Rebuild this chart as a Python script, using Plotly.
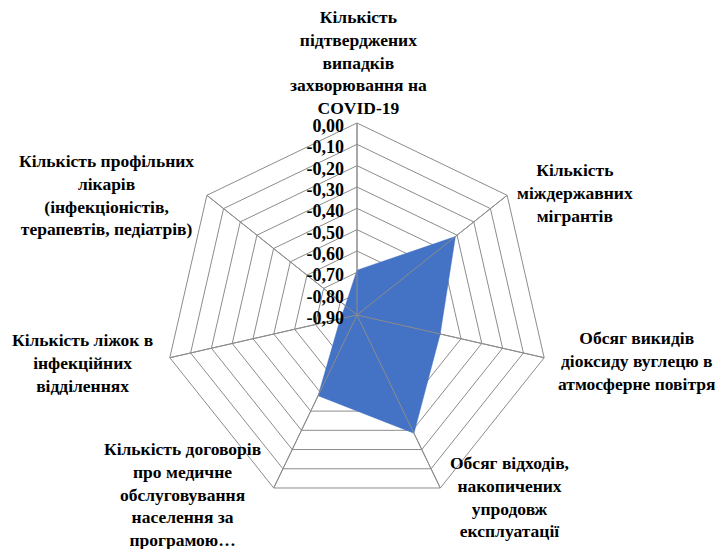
import plotly.graph_objects as go

# Axis categories (clockwise from the top) and their values.
categories = [
    "Кількість підтверджених випадків захворювання на COVID-19",
    "Кількість міждержавних мігрантів",
    "Обсяг викидів діоксиду вуглецю в атмосферне повітря",
    "Обсяг відходів, накопичених упродовж експлуатації",
    "Кількість договорів про медичне обслуговування населення за програмою…",
    "Кількість ліжок в інфекційних відділеннях",
    "Кількість профільних лікарів (інфекціоністів, терапевтів, педіатрів)",
]
values = [-0.69, -0.31, -0.50, -0.285, -0.48, -0.82, -0.83]

# Radial tick values and their labels (hyphen minus, comma decimals).
tick_vals = [0.0, -0.1, -0.2, -0.3, -0.4, -0.5, -0.6, -0.7, -0.8, -0.9]
tick_text = ["0,00", "-0,10", "-0,20", "-0,30", "-0,40", "-0,50",
             "-0,60", "-0,70", "-0,80", "-0,90"]

# Wrapped labels as they appear around the chart.
label_lines = [
    "Кількість<br>підтверджених<br>випадків<br>захворювання на<br>COVID-19",
    "Кількість<br>міждержавних<br>мігрантів",
    "Обсяг викидів<br>діоксиду вуглецю в<br>атмосферне повітря",
    "Обсяг відходів,<br>накопичених<br>упродовж<br>експлуатації",
    "Кількість договорів<br>про медичне<br>обслуговування<br>населення за<br>програмою…",
    "Кількість ліжок в<br>інфекційних<br>відділеннях",
    "Кількість профільних<br>лікарів<br>(інфекціоністів,<br>терапевтів, педіатрів)",
]
# label anchor in figure pixels (x, y from top) and horizontal anchor
# (page body adds ~8px offset, so these are screen positions minus 8)
label_pos = [(350, 54), (567, 185), (709, 353), (501, 489), (174, 486), (74, 355), (98, 187)]
label_xanchor = ["center", "center", "right", "center", "center", "center", "center"]

R_MIN, R_MAX = -0.9, 0.0

W, H = 723, 549
FONT = "Liberation Serif"
FS = 17.5
GRID = "#8c8c8c"
FILL = "#4472C4"

fig = go.Figure()
fig.add_trace(go.Scatterpolar(
    r=values + values[:1], theta=categories + categories[:1],
    mode="lines", fill="toself", fillcolor=FILL,
    line=dict(color=FILL, width=0.5), showlegend=False,
))
# spokes drawn over the fill
for cat in categories:
    fig.add_trace(go.Scatterpolar(
        r=[R_MIN, R_MAX], theta=[cat, cat], mode="lines",
        line=dict(color=GRID, width=1), showlegend=False, hoverinfo="skip",
    ))

cx, cy, rad = 349, 307, 192
fig.update_layout(
    width=W, height=H,
    margin=dict(l=0, r=0, t=0, b=0),
    paper_bgcolor="white",
    font=dict(family=FONT, size=FS, color="black"),
    polar=dict(
        domain=dict(x=[(cx - rad) / W, (cx + rad) / W],
                    y=[1 - (cy + rad) / H, 1 - (cy - rad) / H]),
        bgcolor="white",
        gridshape="linear",
        angularaxis=dict(
            direction="clockwise", rotation=90,
            showticklabels=False, ticks="",
            showgrid=True, gridcolor=GRID, gridwidth=1,
            showline=True, linecolor=GRID, linewidth=1,
        ),
        radialaxis=dict(
            range=[R_MIN, R_MAX], tickvals=tick_vals, ticktext=tick_text,
            angle=90, side="counterclockwise", ticks="",
            showgrid=True, gridcolor=GRID, gridwidth=1,
            showline=False,
            tickfont=dict(family=FONT, size=18, color="black", weight="bold"),
        ),
    ),
)

for text, (x, y), xa in zip(label_lines, label_pos, label_xanchor):
    fig.add_annotation(
        x=x / W, y=1 - y / H, xref="paper", yref="paper",
        text=text, showarrow=False, align="center",
        xanchor=xa, yanchor="middle",
        font=dict(family=FONT, size=FS, color="black", weight="bold"),
    )

fig.write_html("out.html")
